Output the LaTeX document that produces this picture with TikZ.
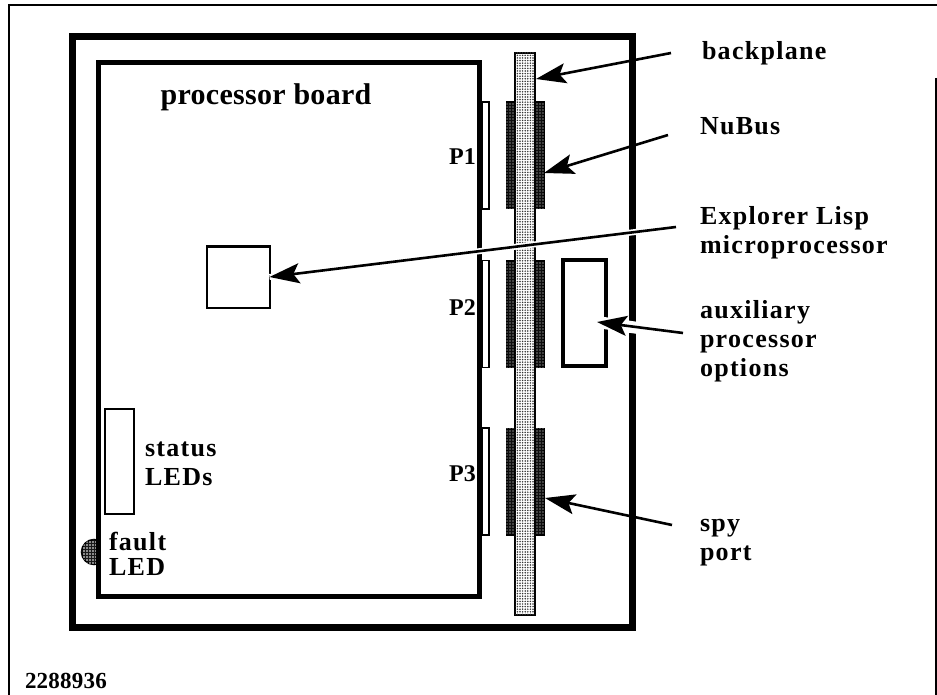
\documentclass[tikz,border=0pt]{standalone}
\usepackage{fontspec}
\setmainfont{Liberation Serif}[BoldFont={Liberation Serif Bold}]
\newfontfamily\labelfont{Liberation Serif Bold}[LetterSpace=5]
\newfontfamily\titlefont{Liberation Serif Bold}[LetterSpace=1]
\usetikzlibrary{arrows.meta, patterns.meta}

\begin{document}
\begin{tikzpicture}[
	x=1pt, y=-1pt,
	box/.style={draw, rectangle, inner sep=0pt, outer sep=0pt},
	wall/.style={box, line width=7pt},
	card/.style={box, line width=4.5pt, fill=white},
	slot/.style={box, line width=1.6pt, fill=white, minimum width=7pt, minimum height=107pt},
	nubus/.style={box, line width=2pt, fill=black!95, minimum width=37pt, minimum height=106pt,
		postaction={pattern={Dots[distance=3pt, radius=.7pt]}, pattern color=white}},
	plane/.style={box, line width=1.6pt, fill=white, minimum width=20pt, minimum height=562pt,
		postaction={pattern={Dots[distance=2.6pt, radius=.85pt]}, pattern color=black!80}},
	lbl/.style={inner sep=0pt, outer sep=0pt, anchor=base west, align=left, font=\labelfont\fontsize{26}{29}\selectfont},
	arrow/.style={-{Stealth[length=30pt, width=20pt, inset=6pt]}, line width=2.6pt},
	halo/.style={draw=white, line width=6pt}
]
	\useasboundingbox (0,0) rectangle (937,695);

	% outer frame
	\draw[line width=1.5pt] (9,695) -- (9,5) -- (937,5);
	\draw[line width=1.5pt] (936,78) -- (936,695);

	\node (chassis) [wall, minimum width=560pt, minimum height=590pt] at (352,332) {};
	\node (faultled) [box, circle, line width=1.5pt, minimum size=25pt, fill=black!90,
		postaction={pattern={Dots[distance=3pt, radius=.8pt]}, pattern color=white}] at (94,552) {};
	\node (board) [card, minimum width=381pt, minimum height=534pt] at (289,329.5) {};

	\node (slotp1) [slot] at (485.5,155.5) {};
	\node (slotp2) [slot] at (485.5,314) {};
	\node (slotp3) [slot] at (485.5,481.5) {};
	\node (nubusa) [nubus] at (525,155.5) {};
	\node (nubusb) [nubus] at (525,314) {};
	\node (nubusc) [nubus] at (525,481.5) {};
	\node (backplane) [plane] at (525,334) {};
	\node (auxbox) [card, line width=4pt, fill=none, minimum width=43pt, minimum height=106pt] at (584.5,313) {};
	\node (cpu) [box, line width=2pt, fill=white, minimum width=63pt, minimum height=61pt] at (238,277) {};
	\node (leds) [box, line width=1.6pt, fill=white, minimum width=29pt, minimum height=105pt] at (119.5,461.5) {};

	\node (title) [inner sep=0pt, anchor=base, font=\titlefont\fontsize{30}{32}\selectfont] at (266,105) {processor board};
	\node (namea) [lbl, font=\titlefont\fontsize{24}{29}\selectfont] at (449,165) {P1};
	\node (nameb) [lbl, font=\titlefont\fontsize{24}{29}\selectfont] at (449,315) {P2};
	\node (namec) [lbl, font=\titlefont\fontsize{24}{29}\selectfont] at (449,481) {P3};
	\node (statuslbl) [lbl] at (145,485) {status\\LEDs};
	\node (faultlbl) [lbl, font=\labelfont\fontsize{26}{25}\selectfont] at (109,575) {fault\\LED};
	\node (serial) [lbl, font=\titlefont\fontsize{23}{24}\selectfont] at (25,688) {2288936};

	\node (backlbl) [lbl] at (702,60) {backplane};
	\node (nubuslbl) [lbl] at (700,135) {NuBus};
	\node (lisplbl) [lbl] at (700,254) {Explorer Lisp\\microprocessor};
	\node (auxlbl) [lbl] at (700,376) {auxiliary\\processor\\options};
	\node (spylbl) [lbl] at (700,560) {spy\\port};

	\coordinate (backtail) at (671,53);
	\coordinate (backtip) at (536,79);
	\coordinate (nubustail) at (668,135);
	\coordinate (nubustip) at (544,173);
	\coordinate (lisptail) at (676,227);
	\coordinate (auxtail) at (683,333);
	\coordinate (auxtip) at (597,322);
	\coordinate (spytail) at (672,525);
	\coordinate (spytip) at (545,498);

	\draw[halo] (lisptail) -- (cpu.east);
	\draw[halo, line width=12pt] (645,329) -- (auxtip);

	\draw[arrow] (backtail) -- (backtip);
	\draw[arrow] (nubustail) -- (nubustip);
	\draw[arrow] (lisptail) -- (cpu.east);
	\draw[arrow] (auxtail) -- (auxtip);
	\draw[arrow] (spytail) -- (spytip);

\end{tikzpicture}
\end{document}
